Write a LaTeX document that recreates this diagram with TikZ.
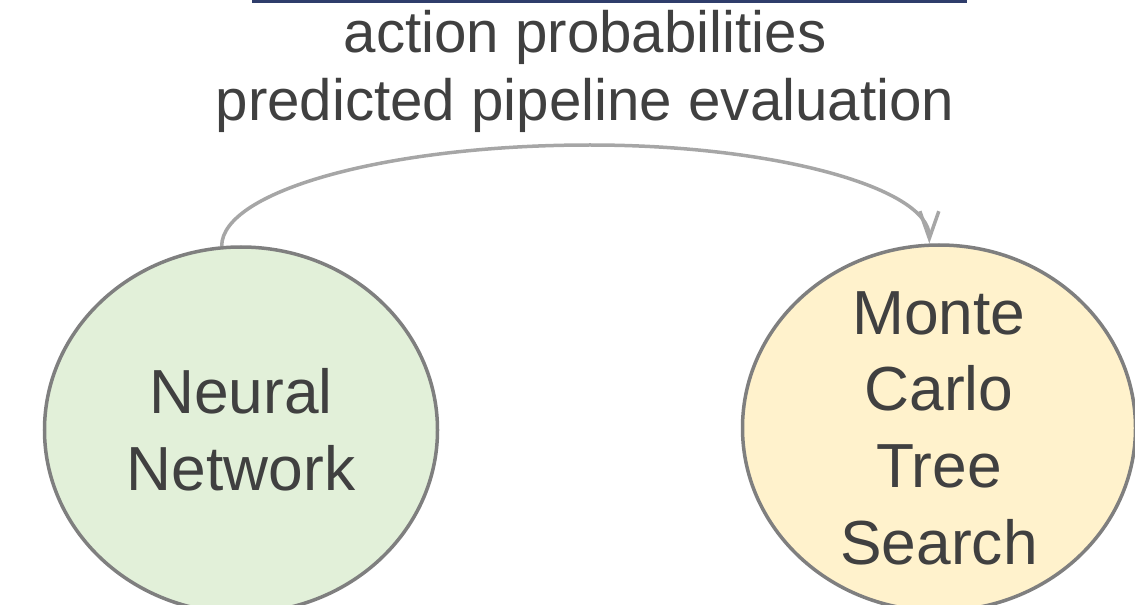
\documentclass[tikz,border=0pt]{standalone}
\usepackage{fontspec}
\setmainfont{Liberation Sans}
\usetikzlibrary{shapes.geometric,arrows.meta}
\definecolor{txt}{HTML}{404040}
\definecolor{edgegray}{HTML}{7F7F7F}
\definecolor{arcgray}{HTML}{A6A6A6}
\definecolor{navyline}{HTML}{2F3D6B}
\definecolor{nnfill}{HTML}{E2F0D9}
\definecolor{mctsfill}{HTML}{FFF2CC}
\begin{document}
\begin{tikzpicture}[x=1bp,y=-1bp,
  blob/.style={ellipse, draw=edgegray, line width=3.5bp, inner sep=-60bp,
    minimum width=393bp, minimum height=366bp, align=center, text=txt,
    font={\fontsize{62.5}{77}\selectfont}},
  flow/.style={draw=arcgray, line width=3.5bp, -{Straight Barb[length=27bp,width=19bp]}},
  caption/.style={align=center, text=txt, inner sep=0pt,
    font={\fontsize{58.5}{68}\selectfont}}]
\useasboundingbox (0,0) rectangle (1135,605);
\coordinate (tl) at (252,1.5);
\coordinate (tr) at (967,1.5);
\draw[navyline, line width=3bp] (tl) -- (tr);
\node[caption] (lbl) at (585,71.3) {action probabilities\\predicted pipeline evaluation};
\node[blob, fill=nnfill] (nn) at (241,430) {Neural\\Network};
\node[blob, fill=mctsfill] (mcts) at (939,428) {Monte\\Carlo\\Tree\\Search};
\coordinate (apex) at (590,145);
\draw[flow] (nn.96) .. controls +(0,-55) and (387,145) .. (apex) .. controls (777,145) and +(0,-55) .. (mcts.93);
\end{tikzpicture}
\end{document}
